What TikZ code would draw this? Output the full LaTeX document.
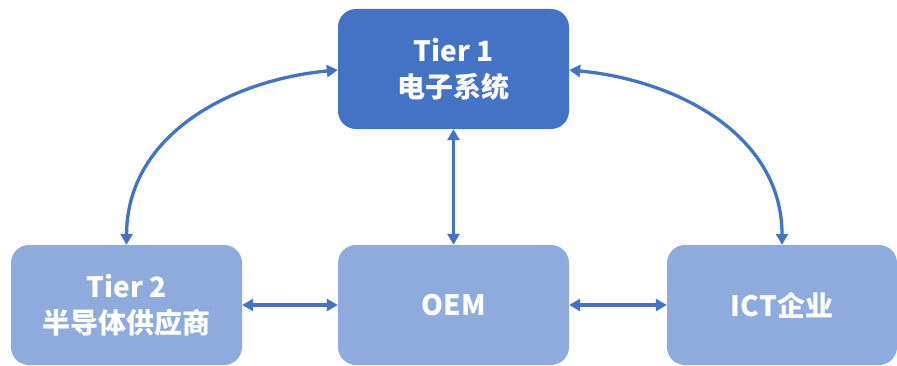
\documentclass[tikz,border=0pt]{standalone}
\usepackage{fontspec}
\setmainfont{Noto Sans CJK SC}
\usetikzlibrary{arrows.meta}
\definecolor{darkblue}{HTML}{4472C4}
\definecolor{lightblue}{HTML}{8FAADC}
\begin{document}
\begin{tikzpicture}[x=1pt,y=1pt,
  box/.style={rounded corners=18pt, minimum width=231pt, minimum height=120pt, inner sep=0pt,
    text=white, font=\fontsize{28}{36}\selectfont\bfseries, align=center},
  topbox/.style={box, fill=darkblue},
  lowbox/.style={box, fill=lightblue},
  link/.style={draw=darkblue, line width=3.3pt, {Triangle[length=11pt,width=12pt]}-{Triangle[length=11pt,width=12pt]}}
]
\useasboundingbox (0,0) rectangle (897,365);
\node[topbox] (t1) at (453.5,296) {Tier 1\\电子系统};
\node[lowbox] (t2) at (126.5,60) {Tier 2\\半导体供应商};
\node[lowbox] (oem) at (453.5,60) {OEM};
\node[lowbox, minimum width=230pt] (ict) at (782,60) {ICT企业};
\coordinate (t1w) at ([yshift=-1pt]t1.west);
\coordinate (t1e) at ([yshift=-1pt]t1.east);
\draw[link] (t1w) .. controls (230,285) and (127,230) .. (t2.north);
\draw[link] (t1e) .. controls (677,285) and (782,230) .. (ict.north);
\draw[link] (t1.south) -- (oem.north);
\draw[link] (t2.east) -- (oem.west);
\draw[link] (oem.east) -- (ict.west);
\end{tikzpicture}
\end{document}
